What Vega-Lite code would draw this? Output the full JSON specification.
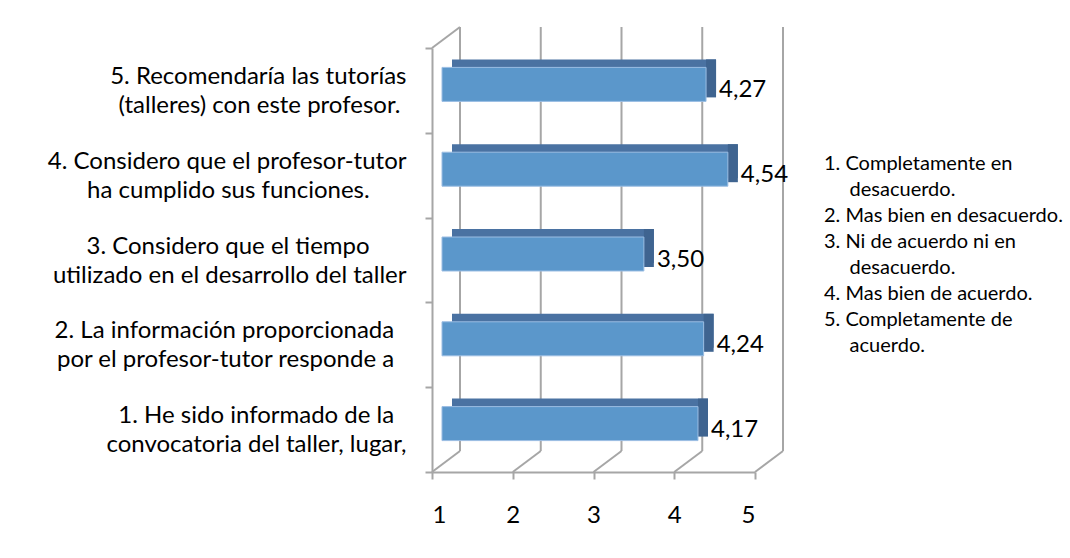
{
  "$schema": "https://vega.github.io/schema/vega-lite/v6.json",
  "width": 323,
  "height": 424,
  "autosize": "none",
  "padding": {"left": 432, "top": 48, "right": 315, "bottom": 86},
  "background": "white",
  "config": {
    "view": {"stroke": null},
    "font": "Lato",
    "locale": {"number": {"decimal": ",", "thousands": ".", "grouping": [3], "currency": ["", " €"]}}
  },
  "title": {
    "text": [
      "1. Completamente en",
      "\u200b\u00a0\u00a0\u00a0\u00a0\u00a0desacuerdo.",
      "2. Mas bien en desacuerdo.",
      "3. Ni de acuerdo ni en",
      "\u200b\u00a0\u00a0\u00a0\u00a0\u00a0desacuerdo.",
      "4. Mas bien de acuerdo.",
      "5. Completamente de",
      "\u200b\u00a0\u00a0\u00a0\u00a0\u00a0acuerdo."
    ],
    "orient": "top",
    "anchor": "start",
    "frame": "group",
    "align": "left",
    "baseline": "top",
    "font": "Lato",
    "fontSize": 20,
    "fontWeight": "normal",
    "color": "black",
    "lineHeight": 26,
    "dx": 392,
    "dy": 334
  },
  "datasets": {
    "preguntas": [
      {"pregunta": "5. Recomendaría las tutorías|(talleres) con este profesor.\u00a0\u200b", "valor": 4.27},
      {"pregunta": "4. Considero que el profesor-tutor|ha cumplido sus funciones.\u00a0\u00a0\u00a0\u00a0\u00a0\u00a0\u200b", "valor": 4.54},
      {"pregunta": "3. Considero que el tiempo\u00a0\u00a0\u00a0\u00a0\u00a0\u00a0\u200b|utilizado en el desarrollo del taller", "valor": 3.50},
      {"pregunta": "2. La información proporcionada\u00a0\u00a0\u200b|por el profesor-tutor responde a\u00a0\u00a0\u200b", "valor": 4.24},
      {"pregunta": "1. He sido informado de la\u00a0\u00a0\u200b|convocatoria del taller, lugar,", "valor": 4.17}
    ],
    "rejilla": [{"v": 1}, {"v": 2}, {"v": 3}, {"v": 4}, {"v": 5}]
  },
  "layer": [
    {
      "data": {"name": "rejilla"},
      "mark": {"type": "rule", "color": "#A6A6A6", "strokeWidth": 2, "xOffset": 28, "yOffset": -21, "y2Offset": -21},
      "encoding": {
        "x": {
          "field": "v", "type": "quantitative",
          "scale": {"domain": [1, 5], "nice": false, "zero": false},
          "axis": {
            "title": null, "values": [1, 2, 3, 4, 5], "format": "d", "grid": false,
            "labelFontSize": 24, "labelColor": "black", "labelPadding": 24, "labelFont": "Lato",
            "tickSize": 7, "tickColor": "#A6A6A6", "tickWidth": 2,
            "domainColor": "#A6A6A6", "domainWidth": 2
          }
        },
        "y": {"datum": 0, "type": "quantitative", "scale": {"domain": [0, 1]}, "axis": null},
        "y2": {"datum": 1}
      }
    },
    {
      "data": {"name": "rejilla"},
      "mark": {"type": "rule", "color": "#A6A6A6", "strokeWidth": 2, "x2Offset": 28, "y2Offset": -21},
      "encoding": {
        "x": {"field": "v", "type": "quantitative", "scale": {"domain": [1, 5], "nice": false, "zero": false}},
        "x2": {"field": "v"},
        "y": {"datum": 0, "type": "quantitative", "scale": {"domain": [0, 1]}, "axis": null},
        "y2": {"datum": 0}
      }
    },
    {
      "data": {"values": [{}]},
      "mark": {"type": "rule", "color": "#A6A6A6", "strokeWidth": 2, "x2Offset": 28, "y2Offset": -21},
      "encoding": {
        "x": {"datum": 1, "type": "quantitative", "scale": {"domain": [1, 5], "nice": false, "zero": false}},
        "x2": {"datum": 1},
        "y": {"datum": 1, "type": "quantitative", "scale": {"domain": [0, 1]}, "axis": null},
        "y2": {"datum": 1}
      }
    },
    {
      "data": {"name": "preguntas"},
      "mark": {"type": "bar", "color": "#4A72A2", "size": 34, "xOffset": 20, "x2Offset": 20, "yOffset": -14, "y2Offset": -14},
      "encoding": {
        "x": {"field": "valor", "type": "quantitative", "scale": {"domain": [1, 5], "nice": false, "zero": false}},
        "x2": {"datum": 1},
        "y": {"field": "pregunta", "type": "nominal", "sort": null, "scale": {"type": "band", "paddingInner": 0, "paddingOuter": 0}, "axis": null}
      }
    },
    {
      "data": {"name": "preguntas"},
      "mark": {"type": "bar", "color": "#3F6490", "size": 38, "xOffset": 10, "x2Offset": 20, "yOffset": -12, "y2Offset": -12},
      "encoding": {
        "x": {"field": "valor", "type": "quantitative", "scale": {"domain": [1, 5], "nice": false, "zero": false}},
        "x2": {"field": "valor"},
        "y": {"field": "pregunta", "type": "nominal", "sort": null, "scale": {"type": "band", "paddingInner": 0, "paddingOuter": 0}, "axis": null}
      }
    },
    {
      "data": {"name": "preguntas"},
      "mark": {"type": "bar", "color": "#5B97CB", "stroke": "#9BBDE3", "strokeWidth": 1, "size": 34, "xOffset": 10, "x2Offset": 10, "yOffset": -6, "y2Offset": -6},
      "encoding": {
        "x": {"field": "valor", "type": "quantitative", "scale": {"domain": [1, 5], "nice": false, "zero": false}},
        "x2": {"datum": 1},
        "y": {
          "field": "pregunta", "type": "nominal", "sort": null,
          "scale": {"type": "band", "paddingInner": 0, "paddingOuter": 0},
          "axis": {
            "title": null, "orient": "left", "tickBand": "extent",
            "labelExpr": "split(datum.label, '|')",
            "labelFontSize": 24, "labelLineHeight": 29, "labelFont": "Lato",
            "labelAlign": "right", "labelBaseline": "middle", "labelPadding": 19, "labelLimit": 0,
            "labelOffset": -14,
            "labelColor": "black",
            "tickSize": 7, "tickColor": "#A6A6A6", "tickWidth": 2,
            "domainColor": "#A6A6A6", "domainWidth": 2
          }
        }
      }
    },
    {
      "data": {"name": "preguntas"},
      "mark": {"type": "text", "align": "left", "baseline": "middle", "dx": 23, "fontSize": 24, "font": "Lato", "color": "black"},
      "encoding": {
        "x": {"field": "valor", "type": "quantitative", "scale": {"domain": [1, 5], "nice": false, "zero": false}},
        "y": {"field": "pregunta", "type": "nominal", "sort": null, "scale": {"type": "band", "paddingInner": 0, "paddingOuter": 0}, "axis": null},
        "text": {"field": "valor", "type": "quantitative", "format": ".2f"}
      }
    }
  ],
  "resolve": {"scale": {"y": "independent"}, "axis": {"y": "independent"}}
}
